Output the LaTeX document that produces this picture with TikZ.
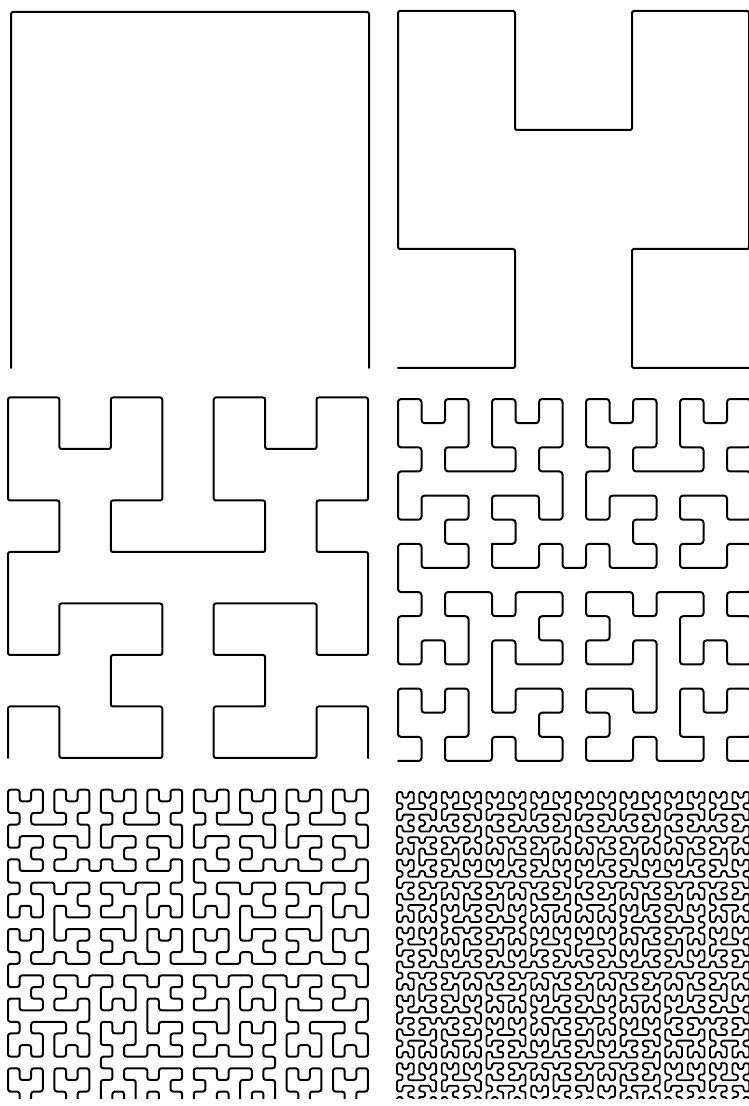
\documentclass[tikz,border=0pt]{standalone}
\makeatletter
\newcount\hdir \newcount\hx \newcount\hy \newcount\hseg
\def\hplus{\global\advance\hdir1 \ifnum\hdir>3 \global\advance\hdir-4 \fi}
\def\hminus{\global\advance\hdir-1 \ifnum\hdir<0 \global\advance\hdir4 \fi}
\def\hfwd{%
  \ifcase\hdir\global\advance\hx1 \or\global\advance\hy1 \or\global\advance\hx-1 \or\global\advance\hy-1 \fi
  \pgfpathlineto{\pgfpointxy{\the\hx}{\the\hy}}%
  \global\advance\hseg1
  \ifnum\hseg>120 \pgfusepath{stroke}\pgfpathmoveto{\pgfpointxy{\the\hx}{\the\hy}}\global\hseg0 \fi}
\def\hA#1{\ifnum#1>0 \expandafter\hAbody\expandafter{\the\numexpr#1-1\relax}\fi}
\def\hB#1{\ifnum#1>0 \expandafter\hBbody\expandafter{\the\numexpr#1-1\relax}\fi}
\def\hAbody#1{\hplus\hB{#1}\hfwd\hminus\hA{#1}\hfwd\hA{#1}\hminus\hfwd\hB{#1}\hplus}
\def\hBbody#1{\hminus\hA{#1}\hfwd\hplus\hB{#1}\hfwd\hB{#1}\hplus\hfwd\hA{#1}\hminus}
\newcommand\hilbcurve[1]{\global\hx0 \global\hy0 \global\hdir0 \global\hseg0
  \pgfpathmoveto{\pgfpointxy{0}{0}}\hA{#1}\pgfusepath{stroke}}
\makeatother
\tikzset{curveline/.style={line width=#1}}
\begin{document}
\begin{tikzpicture}[x=1pt,y=1pt,line cap=round,line join=round]
\useasboundingbox (0,0) rectangle (749,1106);
\clip (0,7) rectangle (749,1106);
% order 1
\begin{scope}[shift={(11,738)},x=358pt,y=356pt,curveline=2pt,rounded corners=1.5pt]
  \hilbcurve{1}
\end{scope}
% order 2
\begin{scope}[shift={(398,738)},x=117pt,y=119pt,curveline=2pt,rounded corners=1.5pt]
  \hilbcurve{2}
\end{scope}
% order 3
\begin{scope}[shift={(8,348)},x=51.43pt,y=51.5pt,curveline=2pt,rounded corners=2pt]
  \hilbcurve{3}
\end{scope}
% order 4
\begin{scope}[shift={(398,345)},x=23.5pt,y=24.13pt,curveline=2pt,rounded corners=3pt]
  \hilbcurve{4}
\end{scope}
% order 5
\begin{scope}[shift={(8,-43.6)},x=11.61pt,y=11.61pt,curveline=2pt,rounded corners=2.5pt]
  \hilbcurve{5}
\end{scope}
% order 6
\begin{scope}[shift={(397,-42)},x=5.59pt,y=5.65pt,curveline=1.8pt,rounded corners=1.5pt]
  \hilbcurve{6}
\end{scope}
\end{tikzpicture}
\end{document}
